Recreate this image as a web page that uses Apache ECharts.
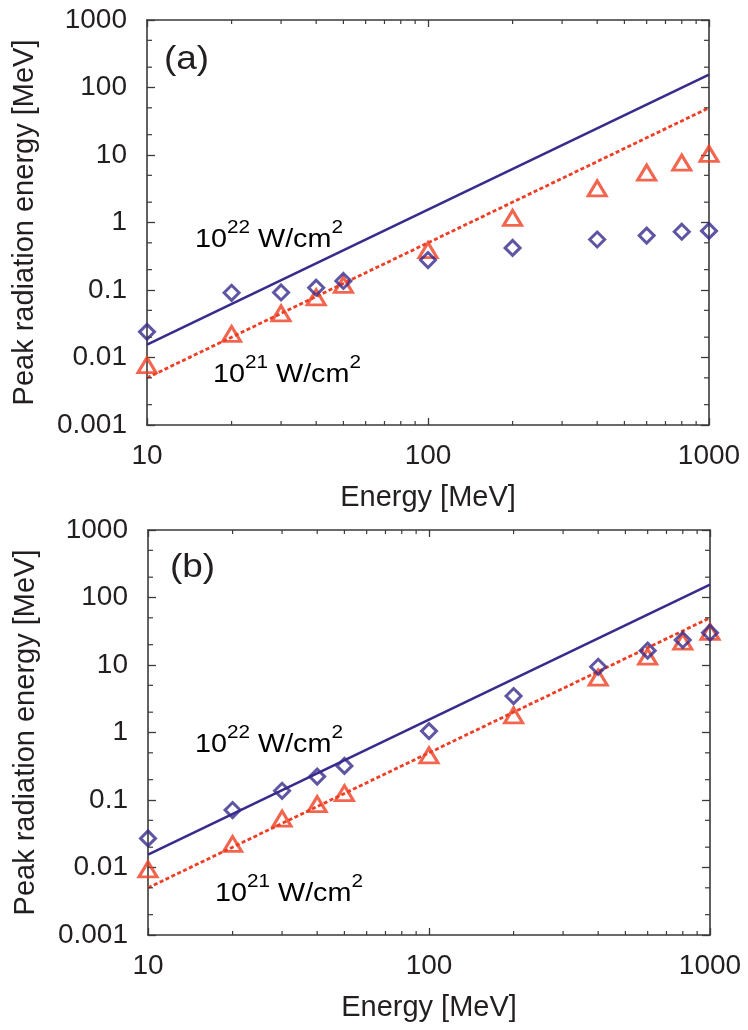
<!DOCTYPE html>
<html>
<head>
<meta charset="utf-8">
<script src="https://cdn.jsdelivr.net/npm/echarts@6/dist/echarts.min.js"></script>
<style>
  html, body { margin: 0; padding: 0; background: #ffffff; }
  #chart { width: 748px; height: 1030px; }
</style>
</head>
<body>
<div id="chart"></div>
<script>
// ---------------- data ----------------
const energies = [10, 20, 30, 40, 50, 100, 200, 400, 600, 800, 1000];
const aDiamond = [0.024, 0.091, 0.092, 0.108, 0.136, 0.278, 0.42, 0.56, 0.64, 0.73, 0.75];
const aTriangle = [0.0077, 0.0223, 0.045, 0.078, 0.119, 0.39, 1.17, 3.2, 5.5, 7.7, 10.4];
const bDiamond = [0.027, 0.071, 0.137, 0.222, 0.32, 1.05, 3.47, 9.4, 16.3, 23.5, 30.1];
const bTriangle = [0.0094, 0.0223, 0.053, 0.087, 0.126, 0.46, 1.8, 6.5, 13.3, 22.2, 31];
const line22 = [[10, 0.0155], [1000, 155]];
const line21 = [[10, 0.005], [1000, 50]];
const xTicks = [10, 100, 1000];
const xTickLabels = ['10', '100', '1000'];
const yTicks = [0.001, 0.01, 0.1, 1, 10, 100, 1000];
const yTickLabels = ['0.001', '0.01', '0.1', '1', '10', '100', '1000'];
const xMinor = [20, 30, 40, 50, 60, 70, 80, 90, 200, 300, 400, 500, 600, 700, 800, 900];
const yMinor = [0.002, 0.005, 0.02, 0.05, 0.2, 0.5, 2, 5, 20, 50, 200, 500];
const xName = 'Energy [MeV]';
const yName = 'Peak radiation energy [MeV]';

// ---------------- style ----------------
const FONT = '"Liberation Sans", Arial, Helvetica, sans-serif';
const TXT = '#231f20';
const AX = '#3a3a3a';
const BLUE = '#372c8c';
const RED = '#ef3e23';

function lookup(v, ticks, labels) {
  for (let i = 0; i < ticks.length; i++) {
    if (Math.abs(Math.log10(v / ticks[i])) < 0.01) return labels[i];
  }
  return '';
}

function xAxisDef(gi, pos, showLabel) {
  return {
    type: 'log', logBase: 10, gridIndex: gi, position: pos,
    min: 10, max: 1000,
    name: showLabel ? xName : '',
    nameLocation: 'middle', nameGap: 58,
    nameTextStyle: { fontFamily: FONT, fontSize: 29, color: TXT },
    axisLine: { show: true, onZero: false, lineStyle: { color: AX, width: 1.6 } },
    axisTick: { show: true, inside: true, length: 7, lineStyle: { color: AX, width: 1.3 } },
    axisLabel: {
      show: showLabel, margin: 17, fontFamily: FONT, fontSize: 28, color: TXT,
      formatter: v => lookup(v, xTicks, xTickLabels)
    },
    splitLine: { show: false },
    minorTick: { show: false }
  };
}
function yAxisDef(gi, pos, showLabel) {
  return {
    type: 'log', logBase: 10, gridIndex: gi, position: pos,
    min: 0.001, max: 1000,
    name: showLabel ? yName : '',
    nameLocation: 'middle', nameGap: 108, nameRotate: 90,
    nameTextStyle: { fontFamily: FONT, fontSize: 29, color: TXT },
    axisLine: { show: true, onZero: false, lineStyle: { color: AX, width: 1.6 } },
    axisTick: { show: true, inside: true, length: 8, lineStyle: { color: AX, width: 1.3 } },
    axisLabel: {
      show: showLabel, margin: 20, fontFamily: FONT, fontSize: 28, color: TXT,
      formatter: v => lookup(v, yTicks, yTickLabels)
    },
    splitLine: { show: false },
    minorTick: { show: false }
  };
}

function minorTickSeries(gi) {
  const data = xMinor.map(v => [v, 1, 0]).concat(yMinor.map(v => [100, v, 1]));
  return {
    type: 'custom', xAxisIndex: gi * 2, yAxisIndex: gi * 2, silent: true, z: 5,
    data: data,
    renderItem: function (params, api) {
      const cs = params.coordSys;
      const st = { stroke: AX, lineWidth: 1.2 };
      if (api.value(2) === 0) {
        const px = api.coord([api.value(0), 1])[0];
        return { type: 'group', children: [
          { type: 'line', shape: { x1: px, y1: cs.y + cs.height, x2: px, y2: cs.y + cs.height - 4 }, style: st },
          { type: 'line', shape: { x1: px, y1: cs.y, x2: px, y2: cs.y + 4 }, style: st }
        ]};
      } else {
        const py = api.coord([100, api.value(1)])[1];
        return { type: 'group', children: [
          { type: 'line', shape: { x1: cs.x, y1: py, x2: cs.x + 5, y2: py }, style: st },
          { type: 'line', shape: { x1: cs.x + cs.width, y1: py, x2: cs.x + cs.width - 5, y2: py }, style: st }
        ]};
      }
    }
  };
}

function panelSeries(gi, diamonds, triangles) {
  const xi = gi * 2, yi = gi * 2;
  return [
    { type: 'line', xAxisIndex: xi, yAxisIndex: yi, data: line22, showSymbol: false, symbol: 'none',
      lineStyle: { color: BLUE, width: 2.6, type: 'solid' }, z: 2, silent: true },
    { type: 'line', xAxisIndex: xi, yAxisIndex: yi, data: line21, showSymbol: false, symbol: 'none',
      lineStyle: { color: RED, width: 2.8, type: [4, 2.5] }, z: 2, silent: true },
    { type: 'scatter', xAxisIndex: xi, yAxisIndex: yi, symbol: 'triangle', symbolSize: [18, 15],
      data: energies.map((e, i) => [e, triangles[i]]),
      itemStyle: { color: 'rgba(255,255,255,0)', borderColor: RED, borderWidth: 3 }, z: 3, silent: true },
    { type: 'scatter', xAxisIndex: xi, yAxisIndex: yi, symbol: 'diamond', symbolSize: [15, 15],
      data: energies.map((e, i) => [e, diamonds[i]]),
      itemStyle: { color: 'rgba(255,255,255,0)', borderColor: BLUE, borderWidth: 3 }, z: 4, silent: true },
    minorTickSeries(gi)
  ];
}

const rich = {
  b: { fontFamily: FONT, fontSize: 25, color: TXT, lineHeight: 34, verticalAlign: 'bottom' },
  s: { fontFamily: FONT, fontSize: 18, color: TXT, lineHeight: 20, verticalAlign: 'top' }
};
function annot(x, y, exp) {
  return {
    type: 'text', x: x, y: y, scaleX: 1.15, silent: true, z: 10,
    style: { text: '{b|10}{s|' + exp + '}{b| W/cm}{s|2}', rich: rich, align: 'left', verticalAlign: 'middle' }
  };
}
function panelLabel(x, y, t) {
  return {
    type: 'text', x: x, y: y, scaleX: 1.12, silent: true, z: 10,
    style: { text: t, fontFamily: FONT, fontSize: 33, fill: TXT, align: 'left', verticalAlign: 'middle' }
  };
}

const option = {
  backgroundColor: '#ffffff',
  animation: false,
  grid: [
    { left: 147, top: 20, width: 562, height: 405 },
    { left: 148, top: 530, width: 562, height: 405 }
  ],
  xAxis: [xAxisDef(0, 'bottom', true), xAxisDef(0, 'top', false), xAxisDef(1, 'bottom', true), xAxisDef(1, 'top', false)],
  yAxis: [yAxisDef(0, 'left', true), yAxisDef(0, 'right', false), yAxisDef(1, 'left', true), yAxisDef(1, 'right', false)],
  series: panelSeries(0, aDiamond, aTriangle).concat(panelSeries(1, bDiamond, bTriangle)),
  graphic: [
    panelLabel(164, 60, '(a)'),
    panelLabel(170, 568, '(b)'),
    annot(195, 236, '22'),
    annot(213, 371, '21'),
    annot(195, 741, '22'),
    annot(215, 890, '21')
  ]
};

const chart = echarts.init(document.getElementById('chart'), null, { renderer: 'canvas' });
chart.setOption(option);
</script>
</body>
</html>
